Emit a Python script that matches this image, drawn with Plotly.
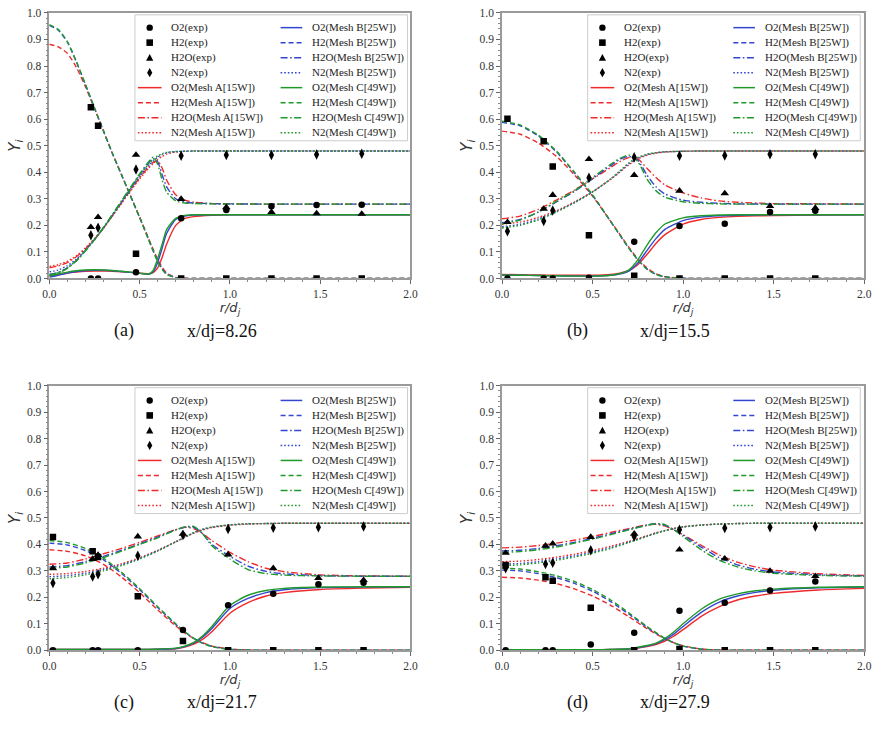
import plotly.graph_objects as go

# ---------------- DATA ----------------
SPECIES = ["O2", "H2", "H2O", "N2"]
MESHES = ["A", "B", "C"]
MESH_LABELS = ["Mesh A[15W]", "Mesh B[25W]", "Mesh C[49W]"]
CAPTION_TAGS = ["(a)", "(b)", "(c)", "(d)"]
CAPTION_TEXTS = ["x/dj=8.26", "x/dj=15.5", "x/dj=21.7", "x/dj=27.9"]
X_TICKS = [0.0, 0.5, 1.0, 1.5, 2.0]
Y_TICKS = [0.0, 0.1, 0.2, 0.3, 0.4, 0.5, 0.6, 0.7, 0.8, 0.9, 1.0]

# ---- panel (a) x/dj = 8.26 ----
R_a = [0, 0.05, 0.1, 0.15, 0.2, 0.25, 0.3, 0.35, 0.4, 0.45, 0.5, 0.55, 0.575, 0.6, 0.625, 0.65, 0.7, 0.75, 0.8, 0.9, 1.0, 1.2, 1.5, 2.0]
O2_a_A = [0.008, 0.014, 0.02, 0.024, 0.027, 0.028, 0.028, 0.027, 0.025, 0.023, 0.02, 0.018, 0.022, 0.04, 0.08, 0.13, 0.2, 0.226, 0.233, 0.238, 0.24, 0.24, 0.24, 0.24]
O2_a_B = [0.005, 0.012, 0.02, 0.026, 0.03, 0.031, 0.031, 0.029, 0.026, 0.023, 0.019, 0.016, 0.025, 0.06, 0.115, 0.17, 0.222, 0.235, 0.239, 0.24, 0.24, 0.24, 0.24, 0.24]
O2_a_C = [0.01, 0.017, 0.024, 0.029, 0.032, 0.033, 0.032, 0.03, 0.027, 0.024, 0.02, 0.016, 0.03, 0.075, 0.13, 0.185, 0.226, 0.237, 0.24, 0.24, 0.24, 0.24, 0.24, 0.24]
H2_a_A = [0.882, 0.872, 0.848, 0.795, 0.722, 0.64, 0.555, 0.47, 0.39, 0.31, 0.232, 0.15, 0.11, 0.072, 0.042, 0.02, 0.004, 0.001, 0, 0, 0, 0, 0, 0]
H2_a_B = [0.953, 0.935, 0.89, 0.815, 0.73, 0.642, 0.555, 0.47, 0.39, 0.31, 0.23, 0.147, 0.105, 0.066, 0.036, 0.017, 0.003, 0, 0, 0, 0, 0, 0, 0]
H2_a_C = [0.956, 0.937, 0.892, 0.817, 0.731, 0.642, 0.555, 0.47, 0.39, 0.31, 0.229, 0.145, 0.103, 0.063, 0.033, 0.015, 0.003, 0, 0, 0, 0, 0, 0, 0]
H2O_a_A = [0.04, 0.047, 0.06, 0.082, 0.112, 0.148, 0.19, 0.237, 0.285, 0.333, 0.38, 0.42, 0.437, 0.444, 0.415, 0.37, 0.315, 0.295, 0.287, 0.282, 0.281, 0.28, 0.28, 0.28]
H2O_a_B = [0.015, 0.023, 0.04, 0.068, 0.105, 0.146, 0.191, 0.24, 0.29, 0.34, 0.39, 0.435, 0.452, 0.44, 0.39, 0.345, 0.3, 0.288, 0.284, 0.282, 0.281, 0.28, 0.28, 0.28]
H2O_a_C = [0.012, 0.02, 0.038, 0.066, 0.104, 0.146, 0.192, 0.242, 0.293, 0.344, 0.394, 0.44, 0.457, 0.43, 0.37, 0.325, 0.292, 0.284, 0.282, 0.281, 0.28, 0.28, 0.28, 0.28]
N2_a_A = [0.045, 0.052, 0.065, 0.085, 0.115, 0.15, 0.19, 0.235, 0.283, 0.33, 0.375, 0.415, 0.433, 0.448, 0.46, 0.468, 0.476, 0.479, 0.48, 0.48, 0.48, 0.48, 0.48, 0.48]
N2_a_B = [0.025, 0.032, 0.048, 0.073, 0.107, 0.146, 0.19, 0.238, 0.287, 0.336, 0.384, 0.425, 0.442, 0.457, 0.467, 0.473, 0.478, 0.479, 0.48, 0.48, 0.48, 0.48, 0.48, 0.48]
N2_a_C = [0.015, 0.022, 0.04, 0.068, 0.105, 0.145, 0.19, 0.24, 0.29, 0.34, 0.39, 0.43, 0.448, 0.462, 0.47, 0.475, 0.478, 0.479, 0.48, 0.48, 0.48, 0.48, 0.48, 0.48]
EXP_R_a = [0.23, 0.27, 0.48, 0.73, 0.98, 1.23, 1.48, 1.73]
EXP_O2_a = [0.0, 0.0, 0.023, 0.227, 0.258, 0.272, 0.277, 0.278]
EXP_H2_a = [0.645, 0.575, 0.093, 0.0, 0.0, 0.0, 0.0, 0.0]
EXP_H2O_a = [0.193, 0.231, 0.465, 0.299, 0.268, 0.25, 0.245, 0.243]
EXP_N2_a = [0.163, 0.191, 0.41, 0.462, 0.465, 0.465, 0.467, 0.47]

# ---- panel (b) x/dj = 15.5 ----
R_b = [0, 0.1, 0.2, 0.3, 0.4, 0.5, 0.6, 0.65, 0.7, 0.75, 0.8, 0.85, 0.9, 1.0, 1.1, 1.2, 1.3, 1.5, 1.75, 2.0]
O2_b_A = [0.015, 0.014, 0.013, 0.012, 0.012, 0.012, 0.015, 0.02, 0.03, 0.052, 0.09, 0.132, 0.165, 0.205, 0.222, 0.23, 0.234, 0.237, 0.239, 0.24]
O2_b_B = [0.012, 0.012, 0.011, 0.01, 0.009, 0.009, 0.012, 0.017, 0.028, 0.058, 0.105, 0.15, 0.185, 0.218, 0.231, 0.236, 0.238, 0.24, 0.24, 0.24]
O2_b_C = [0.013, 0.012, 0.011, 0.01, 0.009, 0.009, 0.012, 0.018, 0.032, 0.07, 0.125, 0.172, 0.205, 0.228, 0.236, 0.239, 0.24, 0.24, 0.24, 0.24]
H2_b_A = [0.555, 0.543, 0.51, 0.46, 0.39, 0.31, 0.215, 0.167, 0.118, 0.074, 0.04, 0.018, 0.007, 0.001, 0, 0, 0, 0, 0, 0]
H2_b_B = [0.588, 0.575, 0.537, 0.477, 0.398, 0.313, 0.214, 0.164, 0.114, 0.07, 0.036, 0.016, 0.006, 0.001, 0, 0, 0, 0, 0, 0]
H2_b_C = [0.592, 0.578, 0.54, 0.48, 0.4, 0.315, 0.215, 0.165, 0.115, 0.07, 0.035, 0.015, 0.006, 0.001, 0, 0, 0, 0, 0, 0]
H2O_b_A = [0.225, 0.235, 0.26, 0.295, 0.333, 0.375, 0.418, 0.44, 0.455, 0.45, 0.415, 0.38, 0.352, 0.322, 0.303, 0.292, 0.287, 0.282, 0.281, 0.28]
H2O_b_B = [0.21, 0.222, 0.25, 0.288, 0.328, 0.376, 0.425, 0.448, 0.46, 0.445, 0.39, 0.345, 0.318, 0.295, 0.287, 0.283, 0.281, 0.28, 0.28, 0.28]
H2O_b_C = [0.205, 0.22, 0.25, 0.29, 0.33, 0.38, 0.43, 0.452, 0.465, 0.44, 0.375, 0.33, 0.306, 0.289, 0.283, 0.281, 0.28, 0.28, 0.28, 0.28]
N2_b_A = [0.205, 0.212, 0.23, 0.255, 0.288, 0.327, 0.373, 0.4, 0.428, 0.45, 0.464, 0.472, 0.476, 0.479, 0.48, 0.48, 0.48, 0.48, 0.48, 0.48]
N2_b_B = [0.195, 0.204, 0.224, 0.252, 0.286, 0.326, 0.374, 0.402, 0.432, 0.453, 0.466, 0.473, 0.477, 0.479, 0.48, 0.48, 0.48, 0.48, 0.48, 0.48]
N2_b_C = [0.19, 0.2, 0.22, 0.25, 0.285, 0.325, 0.375, 0.405, 0.435, 0.456, 0.468, 0.474, 0.477, 0.479, 0.48, 0.48, 0.48, 0.48, 0.48, 0.48]
EXP_R_b = [0.03, 0.23, 0.28, 0.48, 0.73, 0.98, 1.23, 1.48, 1.73]
EXP_O2_b = [0.0, 0.0, 0.0, 0.003, 0.138, 0.198, 0.206, 0.25, 0.255]
EXP_H2_b = [0.601, 0.517, 0.422, 0.163, 0.01, 0.0, 0.0, 0.0, 0.0]
EXP_H2O_b = [0.212, 0.262, 0.314, 0.449, 0.389, 0.33, 0.32, 0.272, 0.265]
EXP_N2_b = [0.178, 0.216, 0.256, 0.379, 0.456, 0.462, 0.463, 0.468, 0.468]

# ---- panel (c) x/dj = 21.7 ----
R_c = [0, 0.1, 0.2, 0.3, 0.4, 0.5, 0.6, 0.7, 0.75, 0.8, 0.85, 0.9, 1.0, 1.1, 1.2, 1.3, 1.5, 1.75, 2.0]
O2_c_A = [0.003, 0.003, 0.003, 0.003, 0.003, 0.003, 0.004, 0.006, 0.012, 0.023, 0.042, 0.07, 0.14, 0.18, 0.205, 0.218, 0.23, 0.235, 0.238]
O2_c_B = [0.003, 0.003, 0.003, 0.003, 0.003, 0.003, 0.004, 0.007, 0.014, 0.027, 0.05, 0.082, 0.158, 0.196, 0.218, 0.229, 0.237, 0.239, 0.24]
O2_c_C = [0.003, 0.003, 0.003, 0.003, 0.003, 0.003, 0.004, 0.008, 0.016, 0.03, 0.055, 0.09, 0.17, 0.208, 0.226, 0.234, 0.239, 0.24, 0.24]
H2_c_A = [0.38, 0.374, 0.357, 0.325, 0.277, 0.218, 0.153, 0.092, 0.066, 0.044, 0.028, 0.016, 0.005, 0.001, 0, 0, 0, 0, 0]
H2_c_B = [0.405, 0.398, 0.377, 0.342, 0.29, 0.229, 0.162, 0.098, 0.069, 0.045, 0.027, 0.015, 0.004, 0.001, 0, 0, 0, 0, 0]
H2_c_C = [0.415, 0.407, 0.385, 0.348, 0.295, 0.233, 0.165, 0.1, 0.07, 0.045, 0.026, 0.014, 0.003, 0.001, 0, 0, 0, 0, 0]
H2O_c_A = [0.325, 0.33, 0.345, 0.365, 0.385, 0.408, 0.432, 0.456, 0.465, 0.46, 0.44, 0.415, 0.37, 0.335, 0.31, 0.297, 0.285, 0.281, 0.28]
H2O_c_B = [0.315, 0.32, 0.335, 0.355, 0.378, 0.402, 0.428, 0.455, 0.465, 0.465, 0.44, 0.4, 0.355, 0.318, 0.298, 0.289, 0.282, 0.28, 0.28]
H2O_c_C = [0.31, 0.315, 0.33, 0.35, 0.375, 0.4, 0.425, 0.455, 0.466, 0.468, 0.44, 0.395, 0.345, 0.305, 0.29, 0.284, 0.281, 0.28, 0.28]
N2_c_A = [0.287, 0.29, 0.298, 0.31, 0.327, 0.35, 0.378, 0.41, 0.427, 0.443, 0.455, 0.464, 0.473, 0.477, 0.479, 0.48, 0.48, 0.48, 0.48]
N2_c_B = [0.278, 0.282, 0.291, 0.305, 0.323, 0.347, 0.376, 0.41, 0.427, 0.444, 0.457, 0.465, 0.474, 0.478, 0.479, 0.48, 0.48, 0.48, 0.48]
N2_c_C = [0.27, 0.275, 0.285, 0.3, 0.32, 0.345, 0.375, 0.41, 0.428, 0.445, 0.458, 0.466, 0.474, 0.478, 0.479, 0.48, 0.48, 0.48, 0.48]
EXP_R_c = [0.02, 0.24, 0.27, 0.49, 0.74, 0.99, 1.24, 1.49, 1.74]
EXP_O2_c = [0.0, 0.0, 0.0, 0.0, 0.077, 0.17, 0.214, 0.25, 0.255]
EXP_H2_c = [0.428, 0.374, 0.353, 0.204, 0.035, 0.0, 0.0, 0.0, 0.0]
EXP_H2O_c = [0.31, 0.345, 0.36, 0.43, 0.44, 0.362, 0.31, 0.273, 0.265]
EXP_N2_c = [0.254, 0.279, 0.287, 0.357, 0.436, 0.458, 0.463, 0.465, 0.468]

# ---- panel (d) x/dj = 27.9 ----
R_d = [0, 0.1, 0.2, 0.3, 0.4, 0.5, 0.6, 0.7, 0.8, 0.85, 0.9, 0.95, 1.0, 1.1, 1.2, 1.3, 1.4, 1.5, 1.75, 2.0]
O2_d_A = [0.002, 0.002, 0.002, 0.002, 0.002, 0.002, 0.003, 0.005, 0.014, 0.022, 0.035, 0.054, 0.078, 0.128, 0.165, 0.19, 0.205, 0.215, 0.228, 0.234]
O2_d_B = [0.002, 0.002, 0.002, 0.002, 0.002, 0.002, 0.003, 0.005, 0.016, 0.025, 0.04, 0.062, 0.09, 0.143, 0.182, 0.205, 0.219, 0.227, 0.236, 0.239]
O2_d_C = [0.002, 0.002, 0.002, 0.002, 0.002, 0.002, 0.003, 0.006, 0.018, 0.027, 0.045, 0.07, 0.1, 0.155, 0.193, 0.213, 0.225, 0.231, 0.238, 0.24]
H2_d_A = [0.276, 0.273, 0.265, 0.252, 0.232, 0.205, 0.17, 0.127, 0.082, 0.062, 0.043, 0.028, 0.017, 0.005, 0.001, 0, 0, 0, 0, 0]
H2_d_B = [0.303, 0.3, 0.29, 0.275, 0.253, 0.223, 0.184, 0.137, 0.087, 0.065, 0.044, 0.028, 0.016, 0.004, 0.001, 0, 0, 0, 0, 0]
H2_d_C = [0.31, 0.307, 0.297, 0.282, 0.26, 0.23, 0.19, 0.142, 0.09, 0.067, 0.045, 0.028, 0.016, 0.004, 0.001, 0, 0, 0, 0, 0]
H2O_d_A = [0.387, 0.39, 0.396, 0.405, 0.416, 0.43, 0.445, 0.46, 0.474, 0.476, 0.47, 0.455, 0.437, 0.397, 0.36, 0.333, 0.315, 0.303, 0.289, 0.283]
H2O_d_B = [0.375, 0.378, 0.385, 0.395, 0.408, 0.423, 0.44, 0.457, 0.473, 0.478, 0.472, 0.455, 0.435, 0.39, 0.35, 0.323, 0.306, 0.296, 0.285, 0.281]
H2O_d_C = [0.37, 0.373, 0.38, 0.39, 0.405, 0.42, 0.437, 0.455, 0.472, 0.479, 0.475, 0.455, 0.43, 0.38, 0.34, 0.315, 0.3, 0.291, 0.283, 0.28]
N2_d_A = [0.335, 0.337, 0.343, 0.352, 0.363, 0.377, 0.393, 0.412, 0.433, 0.444, 0.453, 0.461, 0.467, 0.474, 0.477, 0.479, 0.48, 0.48, 0.48, 0.48]
N2_d_B = [0.325, 0.328, 0.335, 0.345, 0.357, 0.371, 0.388, 0.409, 0.431, 0.443, 0.452, 0.46, 0.466, 0.473, 0.477, 0.479, 0.48, 0.48, 0.48, 0.48]
N2_d_C = [0.32, 0.323, 0.33, 0.34, 0.352, 0.367, 0.385, 0.407, 0.43, 0.442, 0.452, 0.46, 0.466, 0.473, 0.477, 0.479, 0.48, 0.48, 0.48, 0.48]
EXP_R_d = [0.02, 0.24, 0.28, 0.49, 0.73, 0.98, 1.23, 1.48, 1.73]
EXP_O2_d = [0.0, 0.0, 0.0, 0.022, 0.066, 0.149, 0.18, 0.226, 0.26]
EXP_H2_d = [0.322, 0.276, 0.263, 0.161, 0.0, 0.005, 0.0, 0.0, 0.0]
EXP_H2O_d = [0.368, 0.395, 0.403, 0.428, 0.44, 0.38, 0.346, 0.30, 0.28]
EXP_N2_d = [0.31, 0.326, 0.331, 0.378, 0.43, 0.456, 0.462, 0.465, 0.468]

# ---------------- assemble ----------------
G = globals()
PANEL_KEYS = ["a", "b", "c", "d"]

W, H = 883, 734
# plot-area boxes in pixels: left, right, top, bottom
BOXES = [(43, 410, 7, 277), (503, 871, 7, 277), (43, 410, 386, 655), (503, 871, 386, 655)]
CAPTION_OFFSETS = [53, 53, 53, 53]

COLORS = {"A": "#f02a2a", "B": "#3446d0", "C": "#1f9a2a"}
DASHES = {"O2": "solid", "H2": "5px,3px", "H2O": "7px,2.5px,1.6px,2.5px", "N2": "1.6px,2px"}
SYMBOLS = {"O2": "circle", "H2": "square", "H2O": "triangle-up", "N2": "diamond-tall"}
MSIZE = {"O2": 6.5, "H2": 6.5, "H2O": 7.5, "N2": 7.5}
SERIF = "Liberation Serif, Times New Roman, serif"
SANS = "DejaVu Sans, sans-serif"


def fx(p):
    return p / W


def fy(p):
    return 1 - p / H


fig = go.Figure()
shapes = []
annotations = []
layout_axes = {}

for i, key in enumerate(PANEL_KEYS):
    xa = "x" if i == 0 else f"x{i + 1}"
    ya = "y" if i == 0 else f"y{i + 1}"
    R = G[f"R_{key}"]
    for mesh in MESHES:
        for sp in SPECIES:
            fig.add_trace(go.Scatter(
                x=R, y=G[f"{sp}_{key}_{mesh}"], mode="lines",
                line=dict(color=COLORS[mesh], width=1.4, dash=DASHES[sp], shape="spline", smoothing=0.6),
                xaxis=xa, yaxis=ya, showlegend=False,
                name=f"{sp}({MESH_LABELS[MESHES.index(mesh)]})"))
    for sp in SPECIES:
        fig.add_trace(go.Scatter(
            x=G[f"EXP_R_{key}"], y=G[f"EXP_{sp}_{key}"], mode="markers",
            marker=dict(symbol=SYMBOLS[sp], color="black", size=MSIZE[sp], line=dict(width=0)),
            xaxis=xa, yaxis=ya, showlegend=False, name=f"{sp}(exp)"))

    L, Rr, T, B = BOXES[i]
    axis_common = dict(showline=True, mirror=True, linecolor="#9a9a9a", linewidth=1.5,
                       ticks="outside", ticklen=4, tickwidth=1, tickcolor="#666",
                       showgrid=False, zeroline=False, tickformat=".1f",
                       tickfont=dict(family=SERIF, size=11.5, color="#333"))
    xname = "xaxis" if i == 0 else f"xaxis{i + 1}"
    yname = "yaxis" if i == 0 else f"yaxis{i + 1}"
    layout_axes[xname] = dict(axis_common, domain=[fx(L), fx(Rr)], anchor=ya, range=[0, 2],
                              tickvals=X_TICKS,
                              minor=dict(ticks="outside", ticklen=2, dtick=0.1, tick0=0, tickcolor="#888"),
                              title=dict(text="<i>r/d<sub>j</sub></i>",
                                         font=dict(family=SANS, size=13, color="#333"), standoff=0))
    layout_axes[yname] = dict(axis_common, domain=[fy(B), fy(T)], anchor=xa, range=[0, 1],
                              tickvals=Y_TICKS,
                              minor=dict(ticks="outside", ticklen=2, dtick=0.02, tick0=0, tickcolor="#888"),
                              title=dict(text="<i>Y<sub>i</sub></i>",
                                         font=dict(family=SANS, size=15, color="#333"), standoff=3))

    # ---- legend box (two columns) ----
    shapes.append(dict(type="rect", xref="paper", yref="paper",
                       x0=fx(L + 87), x1=fx(L + 364), y0=fy(T + 130), y1=fy(T + 2),
                       fillcolor="white", line=dict(color="#cccccc", width=1), layer="above"))
    rows = [T + 15 + k * 15.25 for k in range(8)]
    col1_entries = [("exp", sp) for sp in SPECIES] + [("A", sp) for sp in SPECIES]
    col2_entries = [("B", sp) for sp in SPECIES] + [("C", sp) for sp in SPECIES]
    for col, entries, lx0, lx1, tx in ((0, col1_entries, L + 90, L + 114, L + 122),
                                       (1, col2_entries, L + 235, L + 257, L + 265)):
        for k, (kind, sp) in enumerate(entries):
            cy = rows[k]
            if kind == "exp":
                cx = (lx0 + lx1) / 2
                base = dict(xref="paper", yref="paper", xsizemode="pixel", ysizemode="pixel",
                            xanchor=fx(cx), yanchor=fy(cy), fillcolor="black",
                            line=dict(width=0), layer="above")
                if sp == "O2":
                    shapes.append(dict(base, type="circle", x0=-3.2, x1=3.2, y0=-3.2, y1=3.2))
                elif sp == "H2":
                    shapes.append(dict(base, type="rect", x0=-3.3, x1=3.3, y0=-3.3, y1=3.3))
                elif sp == "H2O":
                    shapes.append(dict(base, type="path", path="M-3.6,-3 L3.6,-3 L0,3.6 Z"))
                else:
                    shapes.append(dict(base, type="path", path="M0,4.6 L2.6,0 L0,-4.6 L-2.6,0 Z"))
                label = f"{sp}(exp)"
            else:
                shapes.append(dict(type="line", xref="paper", yref="paper",
                                   x0=fx(lx0), x1=fx(lx1), y0=fy(cy), y1=fy(cy),
                                   line=dict(color=COLORS[kind], width=1.5, dash=DASHES[sp]),
                                   layer="above"))
                label = f"{sp}({MESH_LABELS[MESHES.index(kind)]})"
            annotations.append(dict(xref="paper", yref="paper", x=fx(tx), y=fy(cy),
                                    xanchor="left", yanchor="middle", text=label, showarrow=False,
                                    font=dict(family=SERIF, size=11, color="#222")))

    # ---- caption ----
    cap_y = B + CAPTION_OFFSETS[i]
    annotations.append(dict(xref="paper", yref="paper", x=fx(L + 64), y=fy(cap_y),
                            xanchor="left", yanchor="middle", text=CAPTION_TAGS[i], showarrow=False,
                            font=dict(family=SERIF, size=18, color="#111")))
    annotations.append(dict(xref="paper", yref="paper", x=fx(L + 138), y=fy(cap_y),
                            xanchor="left", yanchor="middle", text=CAPTION_TEXTS[i], showarrow=False,
                            font=dict(family=SERIF, size=18, color="#111")))

fig.update_layout(
    width=W, height=H, margin=dict(l=0, r=0, t=0, b=0),
    plot_bgcolor="white", paper_bgcolor="white",
    showlegend=False, shapes=shapes, annotations=annotations,
    **layout_axes)

fig.write_html("out.html")
